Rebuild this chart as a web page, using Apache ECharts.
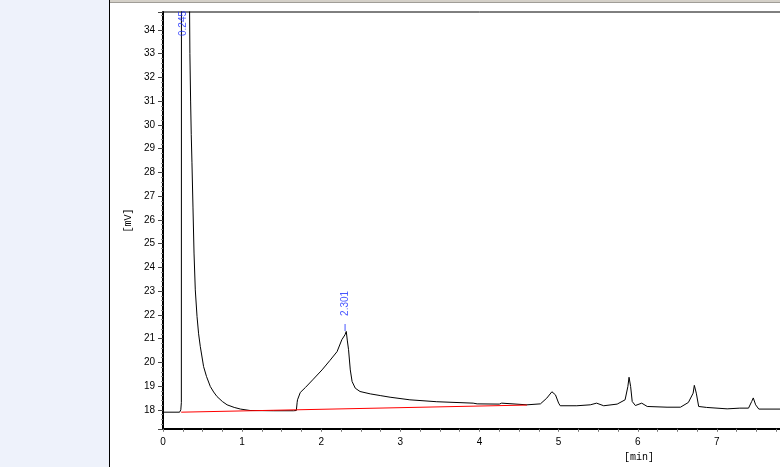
<!DOCTYPE html>
<html><head><meta charset="utf-8">
<script src="https://cdn.jsdelivr.net/npm/echarts@6/dist/echarts.min.js"></script>
<style>html,body{margin:0;padding:0;overflow:hidden;background:#fff;width:780px;height:467px}#c{width:800px;height:467px}</style>
</head><body><div id="c"></div>
<script>
// Chromatogram trace (time in min, signal in mV)
const times = [0.00,0.21,0.22,0.225,0.232,0.235,0.33,0.336,0.340,0.349,0.357,0.366,0.379,0.392,0.408,0.43,0.45,0.471,0.513,0.55,0.598,0.64,0.682,0.75,0.81,0.90,0.98,1.10,1.40,1.65,1.685,1.695,1.70,1.735,1.80,1.90,2.01,2.11,2.20,2.26,2.30,2.316,2.33,2.345,2.367,2.39,2.43,2.49,2.62,2.745,2.87,3.12,3.46,3.92,3.97,4.25,4.28,4.30,4.60,4.77,4.85,4.915,4.96,5.00,5.02,5.23,5.24,5.25,5.40,5.48,5.57,5.74,5.84,5.875,5.89,5.91,5.93,5.97,6.05,6.12,6.37,6.54,6.64,6.70,6.715,6.74,6.77,6.87,7.13,7.29,7.40,7.44,7.46,7.49,7.53,7.90];
const signal = [17.90,17.90,17.93,18.00,18.30,60.0,60.0,34.8,33.0,31.0,29.6,28.4,26.5,24.6,23.05,21.93,21.2,20.67,19.82,19.4,18.98,18.75,18.56,18.35,18.21,18.10,18.03,17.97,17.96,17.96,17.97,18.30,18.42,18.73,18.94,19.29,19.68,20.08,20.45,20.95,21.16,21.30,20.90,20.53,19.68,19.19,18.91,18.77,18.67,18.60,18.53,18.42,18.34,18.28,18.25,18.24,18.28,18.24,18.21,18.25,18.49,18.76,18.63,18.28,18.17,18.17,18.22,18.17,18.21,18.28,18.17,18.24,18.42,18.98,19.37,18.98,18.35,18.18,18.28,18.14,18.11,18.11,18.31,18.70,19.03,18.70,18.14,18.10,18.04,18.07,18.07,18.35,18.50,18.21,18.03,18.03];
// Integration baseline (red)
const baselineTimes = [0.23, 4.60];
const baselineValues = [17.90, 18.20];
// Peak retention-time labels
const peakTimes = [0.245, 2.301];
const peakValues = [34.75, 21.30];
const peakLabels = ['0.245', '2.301'];
// Axis ranges
const xMin = 0, xMax = 8, xStep = 1;
const yMin = 17.2, yMax = 34.75;

const trace = times.map((t, i) => [t, signal[i]]);
const baseline = baselineTimes.map((t, i) => [t, baselineValues[i]]);
const blue = '#1a2cff';
const peakItems = peakTimes.map((t, i) => {
  const offScale = peakValues[i] >= yMax;
  return offScale ? {
    value: [t, yMax], symbolSize: 0,
    label: {show: true, formatter: peakLabels[i], position: 'inside', rotate: 90, align: 'right', verticalAlign: 'middle', offset: [1, 1]}
  } : {
    value: [t, peakValues[i]], symbol: 'rect', symbolSize: [1, 7], symbolOffset: [0, -4],
    label: {show: true, formatter: peakLabels[i], position: 'top', distance: 6, rotate: 90, align: 'left', verticalAlign: 'middle', offset: [2, 0]}
  };
});

const chart = echarts.init(document.getElementById('c'), null, {renderer: 'canvas'});
chart.setOption({
  animation: false,
  backgroundColor: '#ffffff',
  graphic: [
    {type: 'rect', shape: {x: 0, y: 0, width: 109, height: 467}, style: {fill: '#EEF2FB'}, z: 0},
    {type: 'line', shape: {x1: 109.5, y1: 0, x2: 109.5, y2: 467}, style: {stroke: '#000', lineWidth: 1}},
    {type: 'rect', shape: {x: 110, y: 0, width: 690, height: 2}, style: {fill: '#D4D0C8'}},
    {type: 'line', shape: {x1: 110, y1: 2.5, x2: 800, y2: 2.5}, style: {stroke: '#A09D97', lineWidth: 1}},
    {type: 'text', left: 624, top: 452, style: {text: '[min]', font: '10px "Liberation Mono", monospace', fill: '#000'}}
  ],
  grid: {left: 163, top: 12, right: 4, bottom: 38.2, show: true, borderColor: '#000', borderWidth: 1, backgroundColor: 'transparent'},
  xAxis: {
    type: 'value', min: xMin, max: xMax, interval: xStep,
    axisLine: {show: true, onZero: false, lineStyle: {color: '#000', width: 2}},
    axisTick: {show: true, length: 3, lineStyle: {color: '#777', width: 1}},
    minorTick: {show: true, splitNumber: 4, length: 3, lineStyle: {color: '#777', width: 1}},
    splitLine: {show: false},
    axisLabel: {color: '#000', fontSize: 10, fontFamily: 'Liberation Sans, Arial', margin: 8, showMaxLabel: false}
  },
  yAxis: {
    type: 'value', min: yMin, max: yMax, splitNumber: 17,
    name: '[mV]', nameLocation: 'middle', nameGap: 26, nameRotate: 90,
    nameTextStyle: {fontSize: 10, fontFamily: 'Liberation Mono, monospace', color: '#000'},
    axisLine: {show: true, onZero: false, lineStyle: {color: '#000', width: 2}},
    axisTick: {show: true, length: 5, lineStyle: {color: '#444', width: 1}},
    minorTick: {show: true, splitNumber: 5, length: 2, lineStyle: {color: '#888', width: 1}},
    splitLine: {show: false},
    axisLabel: {color: '#000', fontSize: 10, fontFamily: 'Liberation Sans, Arial', margin: 8, showMinLabel: false, showMaxLabel: false}
  },
  series: [
    {type: 'line', data: trace, showSymbol: false, clip: true, lineStyle: {color: '#000', width: 1}, z: 2, silent: true},
    {type: 'line', data: baseline, showSymbol: false, clip: true, lineStyle: {color: '#ff0000', width: 1}, z: 3, silent: true},
    {type: 'scatter', data: peakItems, itemStyle: {color: blue}, clip: false, z: 4, silent: true,
     label: {color: blue, fontSize: 10, fontFamily: 'Liberation Sans, Arial'}}
  ]
});
</script></body></html>
